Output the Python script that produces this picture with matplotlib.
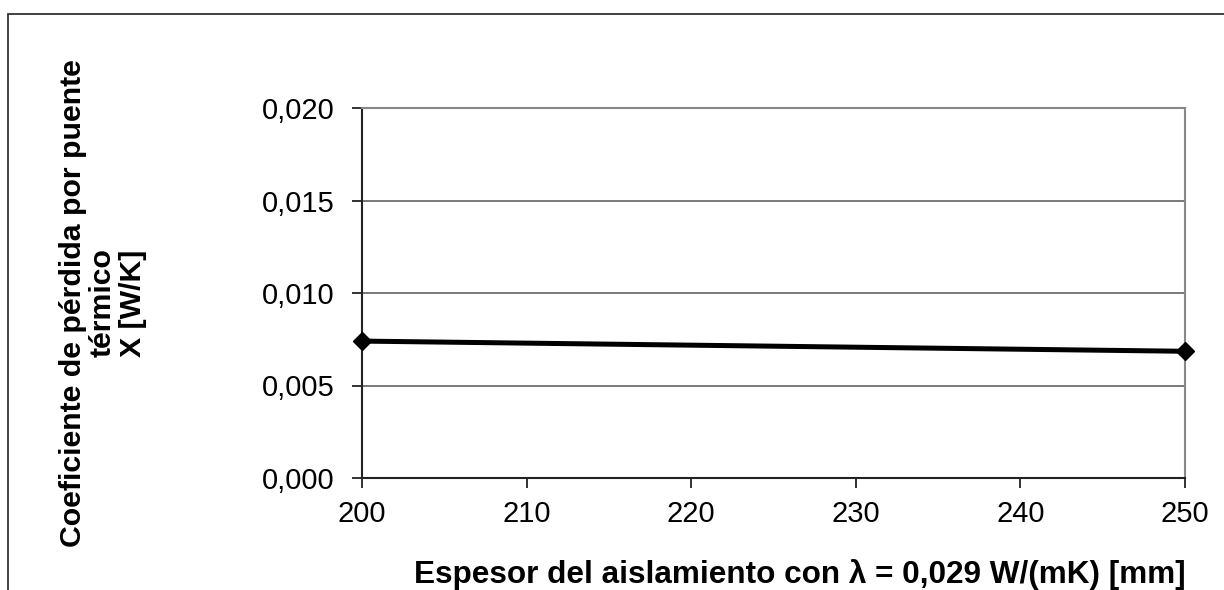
import matplotlib
matplotlib.use("Agg")
import matplotlib.pyplot as plt
from matplotlib.patches import Rectangle
from matplotlib.ticker import FuncFormatter

plt.rcParams['font.family'] = ['Liberation Sans', 'DejaVu Sans']

espesor = [200, 250]
coeficiente = [0.0074, 0.00685]
x_ticks = [200, 210, 220, 230, 240, 250]
y_ticks = [0.000, 0.005, 0.010, 0.015, 0.020]

W, H = 1224, 590
fig = plt.figure(figsize=(W / 100, H / 100), dpi=100)

# outer chart frame
fig.patches.append(Rectangle((8 / W, -0.1), 1.2, 1 - 14 / H + 0.1,
                             transform=fig.transFigure, fill=False,
                             edgecolor='#333333', linewidth=1.3))

ax = fig.add_axes([362 / W, 1 - 478 / H, (1185 - 362) / W, (478 - 108) / H])
ax.plot(espesor, coeficiente, color='black', linewidth=3.6,
        marker='D', markersize=9, markerfacecolor='black',
        markeredgecolor='black', clip_on=False, zorder=5)

ax.set_xlim(200, 250)
ax.set_ylim(0, 0.020)
ax.set_xticks(x_ticks)
ax.set_yticks(y_ticks)
ax.yaxis.set_major_formatter(FuncFormatter(lambda v, p: f"{v:.3f}".replace('.', ',')))
ax.grid(axis='y', color='#555555', linewidth=1.1)
ax.set_axisbelow(True)

for s in ['top', 'right']:
    ax.spines[s].set_color('#888888')
    ax.spines[s].set_linewidth(1.5)
for s in ['left', 'bottom']:
    ax.spines[s].set_color('#222222')
    ax.spines[s].set_linewidth(1.5)

ax.tick_params(axis='both', direction='out', length=7, width=1.3,
               color='#222222', labelsize=21)
ax.tick_params(axis='y', pad=13)
ax.tick_params(axis='x', pad=9)

fig.text(800 / W, 1 - 575 / H,
         "Espesor del aislamiento con λ = 0,029 W/(mK) [mm]",
         ha='center', va='center', fontsize=22.7, fontweight='bold')
fig.text(103 / W, 1 - 303 / H,
         "Coeficiente de pérdida por puente\ntérmico\nX [W/K]",
         ha='center', va='center', rotation=90, multialignment='center',
         fontsize=21.8, fontweight='bold', linespacing=1.08)

fig.savefig("out.png", dpi=100)
